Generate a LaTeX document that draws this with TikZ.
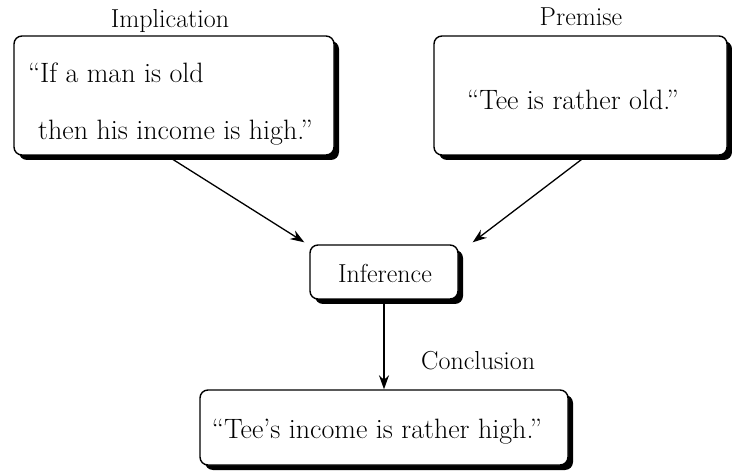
\documentclass[tikz,border=0pt]{standalone}
\usepackage{fontspec}
\usetikzlibrary{shadows,arrows.meta}
\begin{document}
\begin{tikzpicture}[x=1pt,y=-1pt,
  box/.style={draw, line width=1.4pt, rounded corners=8pt, fill=white, inner sep=0pt,
    drop shadow={shadow xshift=5pt, shadow yshift=-5pt, fill=black, opacity=1}},
  big/.style={inner sep=0pt, font=\fontsize{28}{33}\selectfont},
  lab/.style={inner sep=0pt, font=\fontsize{26}{30}\selectfont},
  arr/.style={line width=1.3pt, -{Stealth[length=14pt,width=10pt]}}]
\useasboundingbox (0,0) rectangle (732,476);
% boxes
\node[box, minimum width=320pt, minimum height=119pt] (impl) at (174,95.5) {};
\node[box, minimum width=293pt, minimum height=119pt] (prem) at (580.5,95.5) {};
\node[box, minimum width=148pt, minimum height=54pt] (inf) at (384,272) {};
\node[box, minimum width=368pt, minimum height=75pt] (concl) at (384,427.5) {};
% labels
\node[lab, anchor=base] (limpl) at (170,28) {Implication};
\node[lab, anchor=base] (lprem) at (581,26) {Premise};
\node[lab, anchor=base west] (lconcl) at (421,370) {Conclusion};
% texts
\node[big, anchor=base west] (t1) at (40,83) {\llap{``}If a man is old};
\node[big, anchor=base west] (t2) at (38,140) {then his income is high.''};
\node[big, anchor=base] (t3) at (573,110) {``Tee is rather old.''};
\node[lab, anchor=base] (t4) at (385,283) {Inference};
\node[big, anchor=base] (t5) at (377,438) {``Tee's income is rather high.''};
% arrows
\draw[arr] ([xshift=-7pt]impl.south) -- ([xshift=-5pt,yshift=2pt]inf.north west);
\draw[arr] ([xshift=6pt]prem.south) -- ([xshift=14pt,yshift=2pt]inf.north east);
\draw[arr] (inf.south) -- (concl.north);
\end{tikzpicture}
\end{document}
